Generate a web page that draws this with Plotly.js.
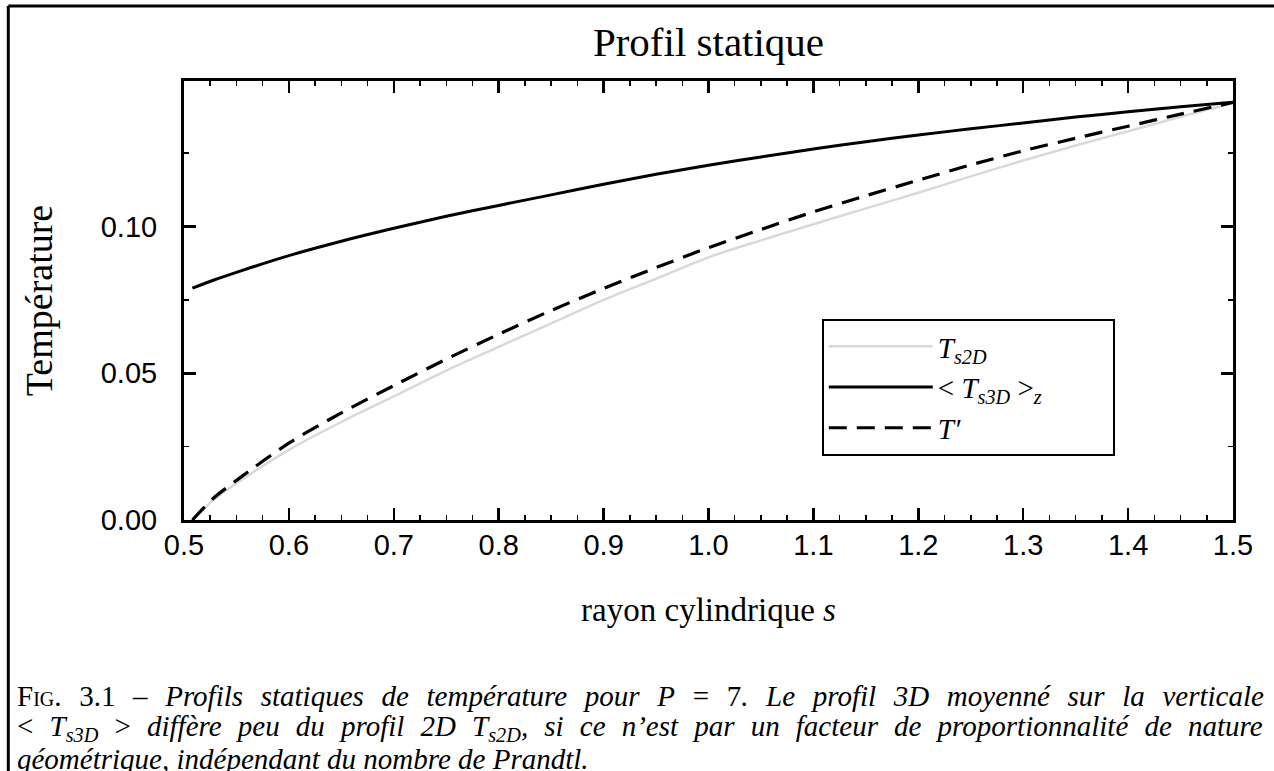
<!DOCTYPE html>
<html>
<head>
<meta charset="utf-8">
<script src="https://cdn.plot.ly/plotly-3.0.1.min.js"></script>
<style>html,body{margin:0;padding:0;background:#fff;}#chart{width:1274px;height:771px;}</style>
</head>
<body>
<div id="chart"></div>
<script>
// rayon cylindrique s
const sValues = [0.508, 0.528, 0.55, 0.6, 0.65, 0.7, 0.75, 0.8, 0.85, 0.9, 0.95, 1.0, 1.05, 1.1, 1.15, 1.2, 1.25, 1.3, 1.35, 1.4, 1.45, 1.5];
// T_s2D (gray)
const tS2D = [0.0, 0.0068, 0.0125, 0.0239, 0.0334, 0.0421, 0.0509, 0.0590, 0.0670, 0.0750, 0.0822, 0.0895, 0.0953, 0.1008, 0.1062, 0.1115, 0.1171, 0.1225, 0.1276, 0.1325, 0.1374, 0.1421];
// <T_s3D>_z (solid black)
const tS3D = [0.0790, 0.0817, 0.0844, 0.0901, 0.0950, 0.0994, 0.1035, 0.1072, 0.1108, 0.1144, 0.1178, 0.1209, 0.1237, 0.1264, 0.1289, 0.1312, 0.1333, 0.1353, 0.1373, 0.1391, 0.1408, 0.1424];
// T' (dashed)
const tPrime = [0.0, 0.0074, 0.0135, 0.0262, 0.0365, 0.0458, 0.0548, 0.0633, 0.0714, 0.0789, 0.0860, 0.0928, 0.0990, 0.1050, 0.1105, 0.1158, 0.1210, 0.1258, 0.1301, 0.1342, 0.1383, 0.1423];

const seriesNames = [
  '<i>T</i><sub><i>s2D</i></sub>',
  '&lt;&nbsp;<i>T</i><sub><i>s3D</i></sub>&nbsp;&gt;<sub><i>z</i></sub>&nbsp;&nbsp;&nbsp;&nbsp;&nbsp;&nbsp;&nbsp;&nbsp;&nbsp;',
  '<i>T′</i>'
];
const captionLines = [
  "<span style='font-variant:small-caps'>Fig.</span> 3.1 – <i>Profils statiques de température pour P</i> = 7<i>. Le profil 3D moyenné sur la verticale</i>",
  "&lt; <i>T</i><sub><i>s3D</i></sub> &gt; <i>diffère peu du profil 2D </i><i>T</i><sub><i>s2D</i></sub><i>, si ce n’est par un facteur de proportionnalité de nature</i>",
  "<i>géométrique, indépendant du nombre de Prandtl.</i>"
];
const captionWordSpacing = [10.4, 8.9, 0];

const serif = 'Liberation Serif, Times New Roman, serif';
const sans = 'Liberation Sans, Arial, Helvetica, sans-serif';

const traces = [
  {x: sValues, y: tS2D, name: seriesNames[0], mode: 'lines', line: {color: '#d9d9d9', width: 2.5, shape: 'spline', smoothing: 0.8}},
  {x: sValues, y: tS3D, name: seriesNames[1], mode: 'lines', line: {color: '#000', width: 3, shape: 'spline', smoothing: 0.8}},
  {x: sValues, y: tPrime, name: seriesNames[2], mode: 'lines', line: {color: '#000', width: 3.2, dash: '18px,10px', shape: 'spline', smoothing: 0.8}}
];

const axisCommon = {
  showline: true, linecolor: '#000', linewidth: 3, mirror: 'ticks',
  ticks: 'inside', ticklen: 12, tickwidth: 2.5, tickcolor: '#000',
  showgrid: false, zeroline: false,
  tickfont: {family: sans, size: 29, color: '#000'}
};

const layout = {
  width: 1274, height: 771,
  margin: {l: 184, r: 41, t: 81, b: 251},
  paper_bgcolor: '#fff', plot_bgcolor: '#fff',
  showlegend: true,
  title: {text: 'Profil statique', font: {family: serif, size: 41, color: '#000'}, x: 0.5, xref: 'paper', xanchor: 'center', y: 1 - 42/771, yref: 'container', yanchor: 'middle'},
  xaxis: Object.assign({}, axisCommon, {
    range: [0.5, 1.5], tick0: 0.5, dtick: 0.1, tickformat: '.1f',
    ticklabelstandoff: -3,
    minor: {dtick: 0.025, ticks: 'inside', ticklen: 5, tickwidth: 1.5, tickcolor: '#000'},
    title: {text: 'rayon cylindrique <i>s</i>', font: {family: serif, size: 33, color: '#000'}, standoff: 39}
  }),
  yaxis: Object.assign({}, axisCommon, {
    range: [0, 0.1496], tick0: 0, dtick: 0.05, tickformat: '.2f',
    ticklabelstandoff: 18,
    minor: {dtick: 0.025, ticks: 'inside', ticklen: 5, tickwidth: 1.5, tickcolor: '#000'},
    title: {text: 'Température', font: {family: serif, size: 38, color: '#000'}, standoff: 37}
  }),
  legend: {
    x: 0.608, y: 0.4579, xanchor: 'left', yanchor: 'top',
    bgcolor: '#fff', bordercolor: '#000', borderwidth: 2,
    font: {family: serif, size: 29, color: '#000'},
    itemwidth: 104, tracegroupgap: 0
  },
  shapes: [
    {type: 'line', xref: 'paper', yref: 'paper', x0: -0.1675, x1: 1.045, y0: 1.1708, y1: 1.1708, line: {color: '#000', width: 3}},
    {type: 'line', xref: 'paper', yref: 'paper', x0: -0.1675, x1: -0.1675, y0: 1.1708, y1: -0.58, line: {color: '#000', width: 3}}
  ],
  annotations: captionLines.map((t, i) => ({
    text: captionWordSpacing[i] ? "<span style='word-spacing:" + captionWordSpacing[i] + "px'>" + t + "</span>" : t,
    xref: 'paper', yref: 'paper', x: -0.1605, y: [-0.400, -0.4745, -0.5435][i],
    xanchor: 'left', yanchor: 'middle', showarrow: false, align: 'left', borderpad: 0,
    font: {family: serif, size: 29, color: '#000'}
  }))
};

Plotly.newPlot('chart', traces, layout, {displayModeBar: false, staticPlot: true});
</script>
</body>
</html>
